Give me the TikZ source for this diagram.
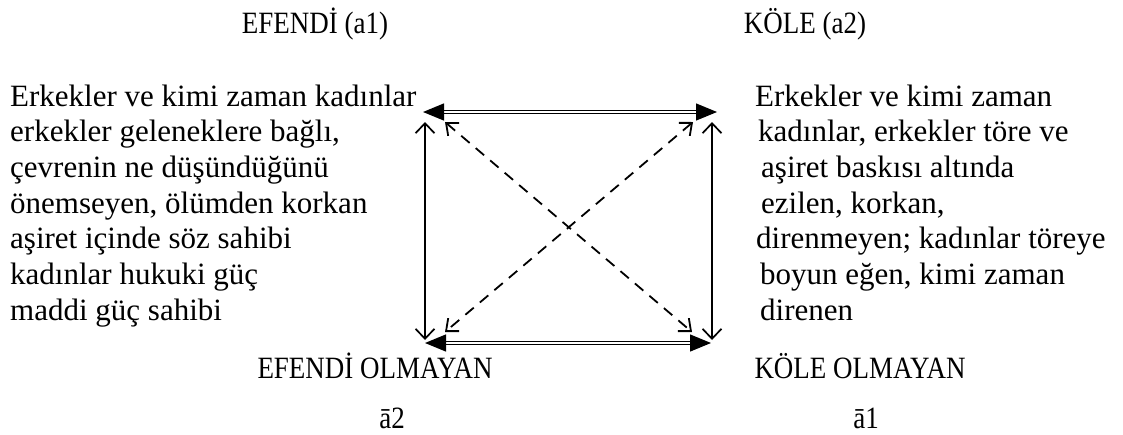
\documentclass[tikz,border=0pt]{standalone}
\usepackage{fontspec}
\setmainfont{Liberation Serif}
\newfontfamily\narrowserif[FakeStretch=0.87]{Liberation Serif}
\usetikzlibrary{arrows.meta}

\begin{document}
\begin{tikzpicture}[
    x=1pt, y=-1pt,
    font=\fontsize{31pt}{36pt}\selectfont,
    txt/.style={anchor=base west, inner sep=0pt},
    lbl/.style={anchor=base, inner sep=0pt, font=\fontsize{31pt}{36pt}\narrowserif},
    dbl/.style={{Triangle[length=21pt,width=17pt]}-{Triangle[length=21pt,width=17pt]}, double, line width=1.3pt, double distance=1.6pt},
    vert/.style={{Straight Barb[length=10pt,width=19pt]}-{Straight Barb[length=10pt,width=19pt]}, line width=1.7pt},
    diag/.style={{Straight Barb[length=10pt,width=17pt]}-{Straight Barb[length=10pt,width=17pt]}, line width=1.8pt, dash pattern=on 11pt off 8pt},
]
\useasboundingbox (0,0) rectangle (1123,434);

% labels of the square
\node[lbl] (efendi) at (315,33) {EFENDİ (a1)};
\node[lbl] (kole) at (805,33) {KÖLE (a2)};
\node[lbl] (efendiyok) at (375,378) {EFENDİ OLMAYAN};
\node[lbl] (koleyok) at (860,378) {KÖLE OLMAYAN};
\node[lbl] (abar2) at (392,428) {ā2};
\node[lbl] (abar1) at (866,428) {ā1};

% left text
\foreach \t [count=\i] in {Erkekler ve kimi zaman kadınlar, {erkekler geleneklere bağlı,}, çevrenin ne düşündüğünü, {önemseyen, ölümden korkan}, aşiret içinde söz sahibi, kadınlar hukuki güç, maddi güç sahibi}
    \node[txt] (sol\i) at (10,{106+35.7*(\i-1)}) {\t};

% right text
\foreach \dx/\t [count=\i] in {0/{Erkekler ve kimi zaman}, 3/{kadınlar, erkekler töre ve}, 6/{aşiret baskısı altında}, 6/{ezilen, korkan,}, 1/{direnmeyen; kadınlar töreye}, 5/{boyun eğen, kimi zaman}, 5/{direnen}}
    \node[txt] (sag\i) at ({755+\dx},{106+35.7*(\i-1)}) {\t};

% corners
\coordinate (a1h) at (423,112);
\coordinate (a2h) at (717,112);
\coordinate (na2h) at (425,343);
\coordinate (na1h) at (711,343);
\coordinate (a1v) at (425,122);
\coordinate (na2v) at (425,340);
\coordinate (a2v) at (712,122);
\coordinate (na1v) at (712,340);
\coordinate (a1d) at (445,122);
\coordinate (na1d) at (692,332);
\coordinate (a2d) at (693,122);
\coordinate (na2d) at (445,332);

\draw[dbl] (a1h) -- (a2h);
\draw[dbl] (na2h) -- (na1h);
\draw[vert] (a1v) -- (na2v);
\draw[vert] (a2v) -- (na1v);
\draw[diag] (a1d) -- (na1d);
\draw[diag] (a2d) -- (na2d);

\end{tikzpicture}
\end{document}
